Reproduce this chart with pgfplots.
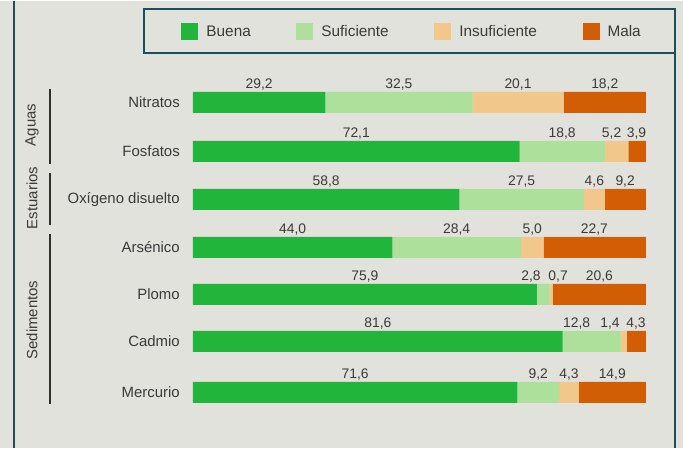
\documentclass[border=0pt]{standalone}
\usepackage{fontspec}
\setmainfont{Liberation Sans}
\usepackage{pgfplots}
\pgfplotsset{compat=1.18}
\usepackage{pgfplotstable}
\definecolor{bgc}{HTML}{E2E2DC}
\definecolor{buena}{HTML}{21B53C}
\definecolor{suf}{HTML}{ADE09A}
\definecolor{insuf}{HTML}{F2C78C}
\definecolor{mala}{HTML}{D35D05}
\definecolor{frame}{HTML}{1E4E58}
\definecolor{txt}{HTML}{3A3A3A}
\definecolor{gline}{HTML}{2E2E2E}

\pgfplotstableread{
cat y B S I M
Nitratos -101.5 29.2 32.5 20.1 18.2
Fosfatos -150.5 72.1 18.8 5.2 3.9
Oxigeno -198.5 58.8 27.5 4.6 9.2
Arsenico -246.5 44.0 28.4 5.0 22.7
Plomo -293.5 75.9 2.8 0.7 20.6
Cadmio -340.5 81.6 12.8 1.4 4.3
Mercurio -391.5 71.6 9.2 4.3 14.9
}\datatable

\pgfplotstableread{
x y lab
14.6 -87.5 29,2
45.45 -87.5 32,5
71.75 -87.5 20,1
90.9 -87.5 18,2
36.05 -136.5 72,1
81.5 -136.5 18,8
92.4 -136.5 5,2
97.9 -136.5 3,9
29.4 -184.5 58,8
72.55 -184.5 27,5
88.6 -184.5 4,6
95.4 -184.5 9,2
22.0 -232.5 44,0
58.2 -232.5 28,4
74.9 -232.5 5,0
88.6 -232.5 22,7
37.95 -279.5 75,9
74.6 -279.5 2,8
80.6 -279.5 0,7
89.7 -279.5 20,6
40.8 -326.5 81,6
84.7 -326.5 12,8
92.05 -326.5 1,4
97.8 -326.5 4,3
35.8 -377.5 71,6
76.2 -377.5 9,2
83.0 -377.5 4,3
92.55 -377.5 14,9
}\labeltable

\begin{document}
\begin{tikzpicture}
\fill[bgc] (0pt,0pt) rectangle (512.25pt,335.25pt);
\begin{axis}[
  at={(144.75pt,0pt)}, anchor=south west,
  scale only axis, width=339.75pt, height=335.25pt,
  xmin=0, xmax=100, ymin=-447, ymax=0,
  xbar stacked, bar width=21,
  axis line style={draw=none},
  major tick length=0pt,
  xtick=\empty,
  ytick={-101.5,-150.5,-198.5,-246.5,-293.5,-340.5,-391.5},
  yticklabels={Nitratos,Fosfatos,Oxígeno disuelto,Arsénico,Plomo,Cadmio,Mercurio},
  yticklabel style={anchor=east, inner sep=0pt, xshift=-9.75pt, font=\fontsize{11.2}{13}\selectfont, text=txt},
  legend columns=4,
  legend image code/.code={\fill[#1] (0pt,-6.375pt) rectangle (12.75pt,6.375pt);},
  legend style={draw=none, fill=none, inner sep=0pt, outer sep=0pt,
    at={(axis cs:-2.54,-31)}, anchor=west,
    font=\fontsize{11.5}{13}\selectfont, text=txt,
    column sep=4pt},
]
\addplot[fill=buena, draw=none] table[x=B, y=y]{\datatable};
\addplot[fill=suf, draw=none] table[x=S, y=y]{\datatable};
\addplot[fill=insuf, draw=none] table[x=I, y=y]{\datatable};
\addplot[fill=mala, draw=none] table[x=M, y=y]{\datatable};
\legend{Buena\hspace*{28.2pt},Suficiente\hspace*{28.2pt},Insuficiente\hspace*{28.2pt},Mala}
\end{axis}
\begin{axis}[
  at={(144.75pt,0pt)}, anchor=south west,
  scale only axis, width=339.75pt, height=335.25pt,
  xmin=0, xmax=100, ymin=-447, ymax=0,
  hide axis,
]
\addplot[only marks, mark=*, mark size=0pt, mark options={draw=none, fill=none},
  nodes near coords, point meta=explicit symbolic,
  nodes near coords style={anchor=base, inner sep=0pt, font=\fontsize{10.4}{12}\selectfont, text=txt}]
  table[x=x, y=y, meta=lab]{\labeltable};
\end{axis}
\draw[frame, line width=1.5pt] (10.5pt,0pt) -- (10.5pt,335.25pt);
\draw[frame, line width=1.5pt] (108pt,296.25pt) rectangle (506.25pt,329.6pt);
\draw[frame, line width=1.5pt] (506.25pt,0pt) -- (506.25pt,296.25pt);
\draw[gline, line width=1.1pt] (37.5pt,269.25pt) -- (37.5pt,213pt);
\draw[gline, line width=1.1pt] (37.5pt,206.25pt) -- (37.5pt,167.25pt);
\draw[gline, line width=1.1pt] (37.5pt,160.5pt) -- (37.5pt,33pt);
\node[rotate=90, font=\fontsize{11.2}{13}\selectfont, text=txt] at (24pt,242.25pt) {Aguas};
\node[rotate=90, font=\fontsize{11.2}{13}\selectfont, text=txt] at (24pt,187.5pt) {Estuarios};
\node[rotate=90, font=\fontsize{11.2}{13}\selectfont, text=txt] at (24pt,96pt) {Sedimentos};
\end{tikzpicture}
\end{document}
